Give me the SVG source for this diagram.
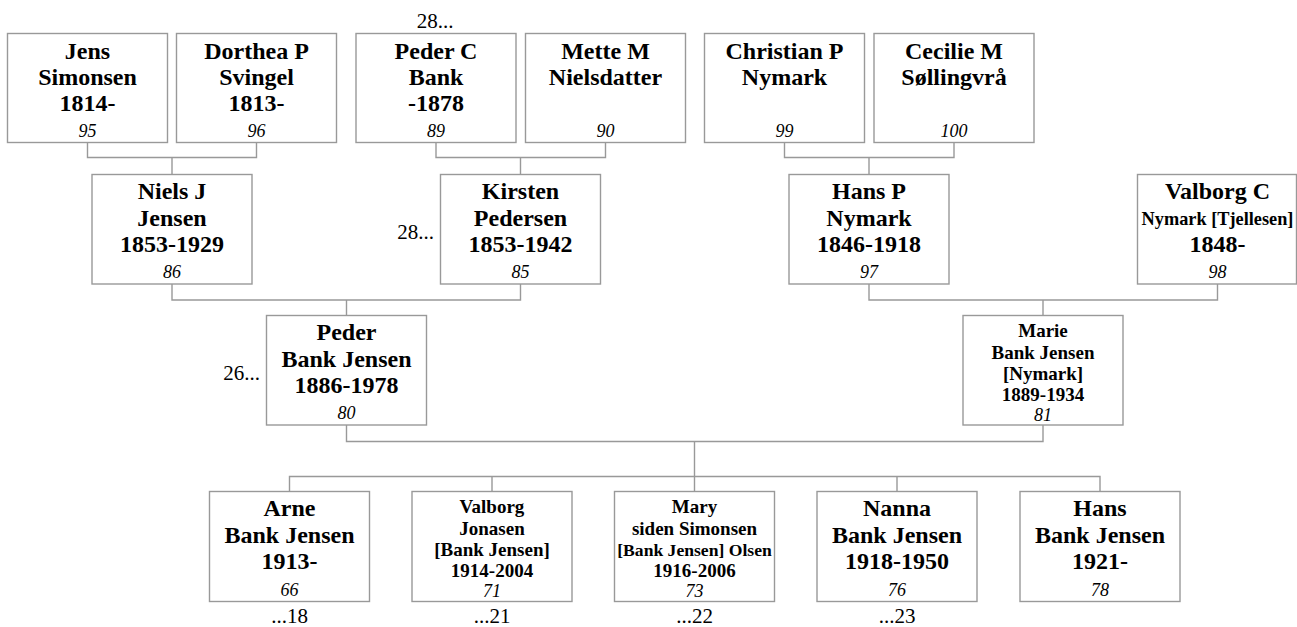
<svg xmlns="http://www.w3.org/2000/svg" width="1297" height="627" viewBox="0 0 1297 627">
<style>
.box{fill:#fff;stroke:#999;stroke-width:1.4}
.con{fill:none;stroke:#999;stroke-width:1.4}
text{font-family:"Liberation Serif","Times New Roman",serif;fill:#000;text-anchor:middle}
.n{font-weight:bold;font-size:24px}
.s{font-weight:bold;font-size:19px}
.i{font-style:italic;font-size:18px}
.ext{font-size:21px}
.end{text-anchor:end}
</style>
<rect width="1297" height="627" fill="#fff"/>
<g id="connectors">
<path class="con" d="M87.5,142.5V157.5H256.5V142.5M172,157.5V174.5"/>
<path class="con" d="M436,142.5V157.5H605.5V142.5M520.5,157.5V174.5"/>
<path class="con" d="M784.5,142.5V157.5H954V142.5M869,157.5V174.5"/>
<path class="con" d="M172,284V300H520.5V284M346.5,300V315.5"/>
<path class="con" d="M869,284V300H1217.5V284M1043,300V315.5"/>
<path class="con" d="M346.5,425V441.5H1043V425M694.5,441.5V476.5"/>
<path class="con" d="M289.5,491.5V476.5H1100V491.5M492,476.5V491.5M694.5,476.5V491.5M897,476.5V491.5"/>
</g>
<g id="jens"><rect class="box" x="7.5" y="33.5" width="160" height="109"/>
<text class="n" x="87.5" y="58.5">Jens</text><text class="n" x="87.5" y="84.5">Simonsen</text><text class="n" x="87.5" y="111">1814-</text><text class="i" x="87.5" y="137">95</text></g>
<g id="dorthea"><rect class="box" x="176.5" y="33.5" width="160" height="109"/>
<text class="n" x="256.5" y="58.5">Dorthea P</text><text class="n" x="256.5" y="84.5">Svingel</text><text class="n" x="256.5" y="111">1813-</text><text class="i" x="256.5" y="137">96</text></g>
<g id="pederc"><rect class="box" x="356" y="33.5" width="160" height="109"/>
<text class="n" x="436" y="58.5">Peder C</text><text class="n" x="436" y="84.5">Bank</text><text class="n" x="436" y="111">-1878</text><text class="i" x="436" y="137">89</text></g>
<text class="ext" x="435" y="27.5">28...</text>
<g id="mette"><rect class="box" x="525.5" y="33.5" width="160" height="109"/>
<text class="n" x="605.5" y="58.5">Mette M</text><text class="n" x="605.5" y="84.5">Nielsdatter</text><text class="i" x="605.5" y="137">90</text></g>
<g id="christian"><rect class="box" x="704.5" y="33.5" width="160" height="109"/>
<text class="n" x="784.5" y="58.5">Christian P</text><text class="n" x="784.5" y="84.5">Nymark</text><text class="i" x="784.5" y="137">99</text></g>
<g id="cecilie"><rect class="box" x="874" y="33.5" width="160" height="109"/>
<text class="n" x="954" y="58.5">Cecilie M</text><text class="n" x="954" y="84.5">Søllingvrå</text><text class="i" x="954" y="137">100</text></g>
<g id="niels"><rect class="box" x="92" y="174.5" width="160" height="109.5"/>
<text class="n" x="172" y="199">Niels J</text><text class="n" x="172" y="225.5">Jensen</text><text class="n" x="172" y="252">1853-1929</text><text class="i" x="172" y="278">86</text></g>
<g id="kirsten"><rect class="box" x="440.5" y="174.5" width="160" height="109.5"/>
<text class="n" x="520.5" y="199">Kirsten</text><text class="n" x="520.5" y="225.5">Pedersen</text><text class="n" x="520.5" y="252">1853-1942</text><text class="i" x="520.5" y="278">85</text></g>
<text class="ext end" x="434" y="239">28...</text>
<g id="hansp"><rect class="box" x="789" y="174.5" width="160" height="109.5"/>
<text class="n" x="869" y="199">Hans P</text><text class="n" x="869" y="225.5">Nymark</text><text class="n" x="869" y="252">1846-1918</text><text class="i" x="869" y="278">97</text></g>
<g id="valborgc"><rect class="box" x="1137.5" y="174.5" width="159" height="109.5"/>
<text class="n" x="1217.5" y="199">Valborg C</text><text x="1217.5" y="225" style="font-weight:bold;font-size:18.3px">Nymark [Tjellesen]</text><text class="n" x="1217.5" y="252">1848-</text><text class="i" x="1217.5" y="278">98</text></g>
<g id="peder"><rect class="box" x="266.5" y="315.5" width="160" height="109.5"/>
<text class="n" x="346.5" y="340">Peder</text><text class="n" x="346.5" y="366.5">Bank Jensen</text><text class="n" x="346.5" y="393">1886-1978</text><text class="i" x="346.5" y="419">80</text></g>
<text class="ext end" x="260" y="380">26...</text>
<g id="marie"><rect class="box" x="963" y="315.5" width="160" height="109.5"/>
<text class="s" x="1043" y="337">Marie</text><text class="s" x="1043" y="358.5">Bank Jensen</text><text class="s" x="1043" y="380">[Nymark]</text><text class="s" x="1043" y="401">1889-1934</text><text class="i" x="1043" y="421">81</text></g>
<g id="arne"><rect class="box" x="209.5" y="491.5" width="160" height="110"/>
<text class="n" x="289.5" y="516">Arne</text><text class="n" x="289.5" y="542.5">Bank Jensen</text><text class="n" x="289.5" y="569">1913-</text><text class="i" x="289.5" y="595.5">66</text></g>
<text class="ext" x="289.5" y="622.5">...18</text>
<g id="valborgj"><rect class="box" x="412" y="491.5" width="160" height="110"/>
<text class="s" x="492" y="513">Valborg</text><text class="s" x="492" y="534.5">Jonasen</text><text class="s" x="492" y="556">[Bank Jensen]</text><text class="s" x="492" y="577">1914-2004</text><text class="i" x="492" y="597">71</text></g>
<text class="ext" x="492" y="622.5">...21</text>
<g id="mary"><rect class="box" x="614.5" y="491.5" width="160" height="110"/>
<text class="s" x="694.5" y="513">Mary</text><text class="s" x="694.5" y="534.5">siden Simonsen</text><text x="694.5" y="556" style="font-weight:bold;font-size:17.6px">[Bank Jensen] Olsen</text><text class="s" x="694.5" y="577">1916-2006</text><text class="i" x="694.5" y="597">73</text></g>
<text class="ext" x="694.5" y="622.5">...22</text>
<g id="nanna"><rect class="box" x="817" y="491.5" width="160" height="110"/>
<text class="n" x="897" y="516">Nanna</text><text class="n" x="897" y="542.5">Bank Jensen</text><text class="n" x="897" y="569">1918-1950</text><text class="i" x="897" y="595.5">76</text></g>
<text class="ext" x="897" y="622.5">...23</text>
<g id="hans"><rect class="box" x="1020" y="491.5" width="160" height="110"/>
<text class="n" x="1100" y="516">Hans</text><text class="n" x="1100" y="542.5">Bank Jensen</text><text class="n" x="1100" y="569">1921-</text><text class="i" x="1100" y="595.5">78</text></g>
</svg>
